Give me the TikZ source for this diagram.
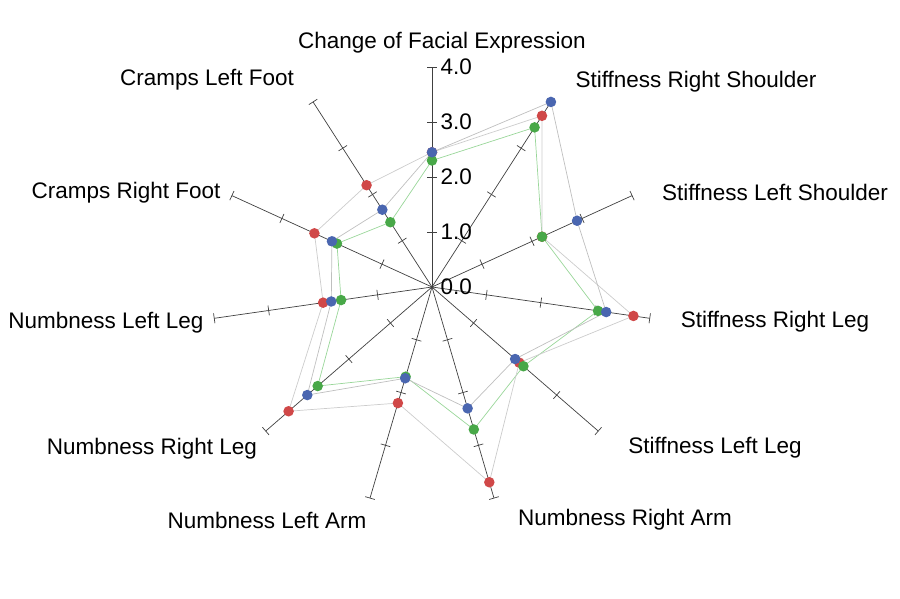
\documentclass[tikz,border=0pt]{standalone}
\usepackage{fontspec}
\setmainfont{Liberation Sans}
\definecolor{dotred}{HTML}{D04848}
\definecolor{dotgreen}{HTML}{48A848}
\definecolor{dotblue}{HTML}{4A66B0}
\tikzset{axisline/.style={draw=black!75,line width=0.4pt}}
\tikzset{tickmark/.style={draw=black!75,line width=0.4pt}}
\tikzset{series/.style={line width=0.4pt}}
\tikzset{dot/.style={circle,inner sep=0pt,minimum size=6pt}}
\tikzset{axlabel/.style={font=\fontsize{12.8}{14}\selectfont}}
\newcommand{\radarpoly}[3]{%
  \foreach \v [count=\i from 0] in {#2}{%
    \coordinate (#1\i) at ({90-\i*360/11}:{\v*1.1});}
  \draw[series,#3] (#10) \foreach \i in {1,...,10}{-- (#1\i)} -- cycle;}
\begin{document}
\begin{tikzpicture}
\useasboundingbox (-8.64,-6.24) rectangle (9.36,5.74);
% axes
\foreach \i in {0,...,10}{%
  \coordinate (o) at (0,0);
  \coordinate (e\i) at ({90-\i*360/11}:4.4);
  \draw[axisline] (o) -- (e\i);
  \foreach \t in {1,2,3,4}{%
    \draw[tickmark] ({90-\i*360/11}:{\t*1.1}) ++({-\i*360/11}:0.1) -- ++({180-\i*360/11}:0.2);}
}
% tick labels
\foreach \t in {0,1,2,3,4}{%
  \node[axlabel,anchor=west] (t\t) at (0.05,{\t*1.1}) {\t.0};}
% series
\radarpoly{g}{2.3,3.45,2.2,3.05,2.2,2.7,1.7,2.75,1.67,1.9,1.4}{green!60!black!40}
\radarpoly{r}{2.45,3.7,2.2,3.7,2.1,3.7,2.2,3.45,2.0,2.35,2.2}{black!20}
\radarpoly{b}{2.45,4.0,2.9,3.2,2.0,2.3,1.73,3.0,1.85,2.0,1.67}{black!25}
\foreach \i in {0,...,10}{%
  \node[dot,fill=dotred] at (r\i) {};}
\foreach \i in {0,...,10}{%
  \node[dot,fill=dotgreen] at (g\i) {};}
\foreach \i in {0,...,10}{%
  \node[dot,fill=dotblue] at (b\i) {};}
% labels
\node[axlabel] (l0) at (0.2,4.88) {Change of Facial Expression};
\node[axlabel] (l1) at (5.28,4.1) {Stiffness Right Shoulder};
\node[axlabel] (l2) at (6.86,1.9) {Stiffness Left Shoulder};
\node[axlabel] (l3) at (6.86,-0.7) {Stiffness Right Leg};
\node[axlabel] (l4) at (5.66,-3.22) {Stiffness Left Leg};
\node[axlabel] (l5) at (3.86,-4.66) {Numbness Right Arm};
\node[axlabel] (l6) at (-3.3,-4.66) {Numbness Left Arm};
\node[axlabel] (l7) at (-5.6,-3.24) {Numbness Right Leg};
\node[axlabel] (l8) at (-6.52,-0.72) {Numbness Left Leg};
\node[axlabel] (l9) at (-6.12,1.88) {Cramps Right Foot};
\node[axlabel] (l10) at (-4.5,4.14) {Cramps Left Foot};
\end{tikzpicture}
\end{document}
